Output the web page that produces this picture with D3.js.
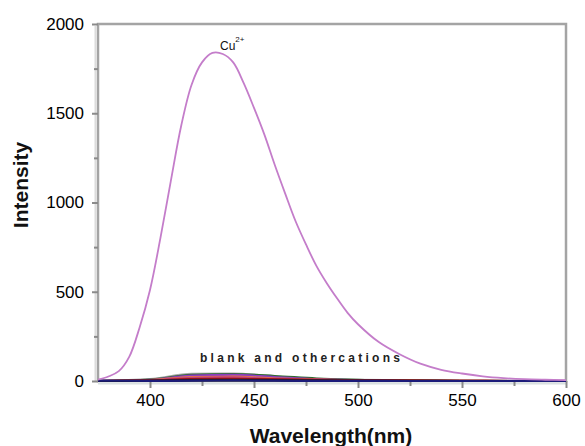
<!DOCTYPE html>
<html>
<head>
<meta charset="utf-8">
<script src="https://cdn.jsdelivr.net/npm/d3@7"></script>
<style>
  body { margin: 0; background: #fff; }
  svg text { font-family: "Liberation Sans", Arial, sans-serif; }
</style>
</head>
<body>
<svg id="chart" width="585" height="446"></svg>
<script>
// Cu2+ emission spectrum
const cuWave = [375, 380, 385, 390, 395, 400, 405, 410, 415, 420, 425, 430, 435, 440, 445, 450, 455, 460, 465, 470, 475, 480, 485, 490, 495, 500, 510, 520, 530, 540, 550, 560, 570, 580, 590, 600];
const cuValues = [8, 25, 55, 135, 300, 510, 800, 1120, 1430, 1660, 1785, 1838, 1832, 1785, 1670, 1530, 1380, 1210, 1050, 895, 765, 645, 548, 462, 382, 318, 218, 150, 97, 63, 42, 26, 16, 10, 7, 5];

// blank and other cations (coarse grid)
const otherWave = [375, 400, 420, 440, 460, 480, 500, 525, 550, 575, 600];
const otherSeries = [
  { color: '#a9a9a9', values: [0, 10, 40, 42, 25, 12, 6, 3, 2, 1, 0] },
  { color: '#2e6b2e', values: [0, 8, 35, 38, 28, 14, 6, 3, 1, 0, 0] },
  { color: '#8a3fc0', values: [0, 6, 30, 34, 22, 10, 5, 2, 1, 0, 0] },
  { color: '#f07d3a', values: [0, 5, 22, 24, 14, 8, 4, 2, 1, 0, 0] },
  { color: '#c0407a', values: [0, 4, 18, 20, 12, 6, 3, 1, 0, 0, 0] },
  { color: '#b30f0f', values: [0, 3, 10, 12, 9, 6, 4, 2, 1, 0, 0] },
  { color: '#7a1a1a', values: [0, 2, 8, 9, 7, 5, 3, 1, 0, 0, 0] },
  { color: '#111111', values: [0, 1, 3, 4, 3, 2, 1, 1, 0, 0, 0] },
  { color: '#1c1c7a', values: [2, 1, 2, 3, 2, 1, 1, 0, 0, 0, 0] }
];

const xMajor = [400, 450, 500, 550, 600];
const xMinor = [425, 475, 525, 575];
const yMajor = [0, 500, 1000, 1500, 2000];
const yMinor = [250, 750, 1250, 1750];

const svg = d3.select('#chart');
const plotLeft = 98, plotRight = 566, plotTop = 24, plotBottom = 381;

const x = d3.scaleLinear().domain([375, 600]).range([plotLeft, plotRight]);
const y = d3.scaleLinear().domain([0, 2000]).range([plotBottom, plotTop]);

// frame
svg.append('rect')
  .attr('x', plotLeft).attr('y', plotTop)
  .attr('width', plotRight - plotLeft).attr('height', plotBottom - plotTop)
  .attr('fill', 'none').attr('stroke', '#a4a4a4').attr('stroke-width', 2.5);
// light shadow on axes
svg.append('line').attr('x1', plotLeft - 2.5).attr('x2', plotLeft - 2.5).attr('y1', plotTop + 2).attr('y2', plotBottom)
  .attr('stroke', '#dcdcdc').attr('stroke-width', 2);
svg.append('line').attr('x1', plotLeft).attr('x2', plotRight).attr('y1', plotBottom + 2.5).attr('y2', plotBottom + 2.5)
  .attr('stroke', '#d8e0e0').attr('stroke-width', 2);

// ticks
const gx = svg.append('g').attr('transform', `translate(0, ${plotBottom})`);
gx.call(d3.axisBottom(x).tickValues(xMajor).tickSize(7).tickPadding(6).tickFormat(d3.format('d')));
const gxMinor = svg.append('g').attr('transform', `translate(0, ${plotBottom})`);
gxMinor.call(d3.axisBottom(x).tickValues(xMinor).tickSize(5).tickFormat(''));

const gy = svg.append('g').attr('transform', `translate(${plotLeft}, 0)`);
gy.call(d3.axisLeft(y).tickValues(yMajor).tickSize(6).tickPadding(8).tickFormat(d3.format('d')));
const gyMinor = svg.append('g').attr('transform', `translate(${plotLeft}, 0)`);
gyMinor.call(d3.axisLeft(y).tickValues(yMinor).tickSize(4).tickFormat(''));

svg.selectAll('.domain').remove();
svg.selectAll('.tick line').attr('stroke', '#8a8a8a').attr('stroke-width', 2);
svg.selectAll('.tick text')
  .attr('font-size', 17)
  .attr('fill', '#000')
  .style('font-family', '"Liberation Sans", Arial, sans-serif');

// other cations
const otherLine = d3.line()
  .x((d, i) => x(otherWave[i]))
  .y(d => y(d))
  .curve(d3.curveMonotoneX);

svg.append('g').selectAll('path')
  .data(otherSeries)
  .enter()
  .append('path')
  .attr('d', d => otherLine(d.values))
  .attr('fill', 'none')
  .attr('stroke', d => d.color)
  .attr('stroke-width', 2.2);

// Cu2+ curve
const cuLine = d3.line()
  .x((d, i) => x(cuWave[i]))
  .y(d => y(d))
  .curve(d3.curveCatmullRom.alpha(0.5));

svg.append('path')
  .attr('d', cuLine(cuValues))
  .attr('fill', 'none')
  .attr('stroke', '#c47dca')
  .attr('stroke-width', 1.8);

// labels
const cuLabel = svg.append('text')
  .attr('x', 220).attr('y', 50)
  .attr('font-size', 12)
  .attr('fill', '#111');
cuLabel.append('tspan').text('Cu');
cuLabel.append('tspan').attr('font-size', 8).attr('dy', -8).text('2+');

svg.append('text')
  .attr('x', 300).attr('y', 362)
  .attr('text-anchor', 'middle')
  .attr('font-size', 12)
  .attr('font-weight', 'bold')
  .attr('fill', '#222')
  .attr('textLength', 200)
  .attr('lengthAdjust', 'spacing')
  .text('blank and othercations');

svg.append('text')
  .attr('x', 331).attr('y', 443)
  .attr('text-anchor', 'middle')
  .attr('font-size', 21)
  .attr('font-weight', 'bold')
  .attr('fill', '#111')
  .text('Wavelength(nm)');

svg.append('text')
  .attr('transform', `translate(28, 185) rotate(-90)`)
  .attr('text-anchor', 'middle')
  .attr('font-size', 21)
  .attr('font-weight', 'bold')
  .attr('fill', '#111')
  .text('Intensity');
</script>
</body>
</html>
